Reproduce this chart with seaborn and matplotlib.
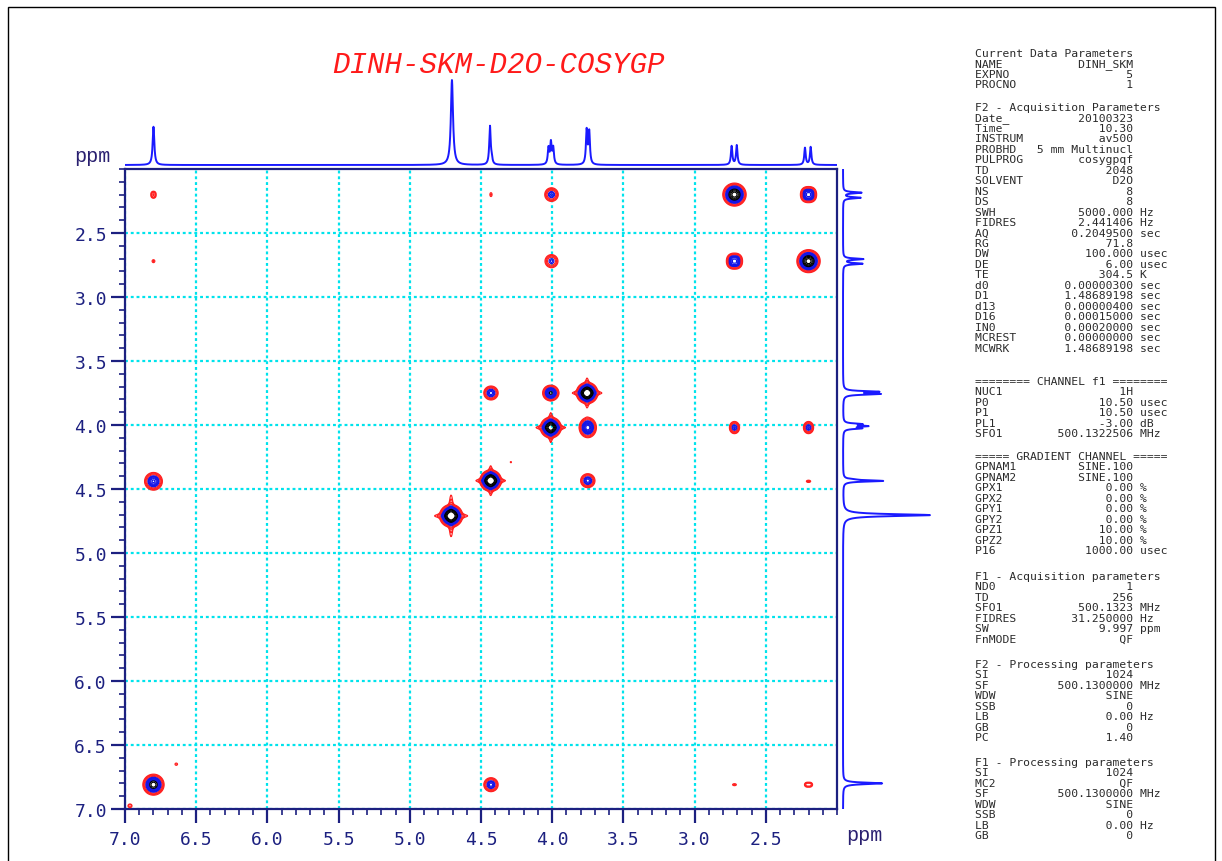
import numpy as np
import pandas as pd
import matplotlib
matplotlib.use("Agg")
import matplotlib.pyplot as plt
from matplotlib.ticker import MultipleLocator, FixedLocator, FixedFormatter
from matplotlib.patches import Rectangle
import seaborn as sns

# ---------------- data ----------------
TITLE = "DINH-SKM-D2O-COSYGP"

# 1D proton spectrum lines (ppm, relative height, half width at half height in ppm)
line_ppm    = [6.800, 4.704, 4.437, 4.425, 4.026, 4.009, 3.993, 3.758, 3.740, 2.740, 2.704, 2.225, 2.185]
line_height = [0.45,  1.00,  0.45,  0.06,  0.19,  0.25,  0.19,  0.40,  0.38,  0.22,  0.23,  0.20,  0.21]
line_hwhm   = [0.007, 0.009, 0.006, 0.006, 0.006, 0.006, 0.006, 0.006, 0.006, 0.006, 0.006, 0.006, 0.006]

# 2D COSY peaks: F2 (x, ppm), F1 (y, ppm), amplitude, widths (ppm)
peak_f2  = [2.720, 2.200, 6.800,
            2.200, 2.216, 2.184, 2.216, 2.184,
            2.720, 2.736, 2.704, 2.736, 2.704,
            4.005, 4.005, 6.800, 6.800, 6.800, 4.430,
            4.430, 4.020, 4.000,
            3.755, 3.755, 3.755,
            4.010, 4.010, 4.010,
            3.750,
            4.432, 4.432, 4.432,
            3.750,
            4.710, 4.710, 4.710,
            6.800, 2.728, 2.712, 2.208, 2.192, 2.200,
            6.640, 6.965, 4.430, 2.720, 2.212, 2.188, 4.290]
peak_f1  = [2.200, 2.720, 6.810,
            2.200, 2.182, 2.182, 2.218, 2.218,
            2.720, 2.702, 2.702, 2.738, 2.738,
            2.200, 2.720, 2.190, 2.212, 2.720, 2.200,
            3.750, 3.750, 3.750,
            3.750, 3.750, 3.750,
            4.020, 4.020, 4.020,
            4.020,
            4.435, 4.435, 4.435,
            4.435,
            4.710, 4.710, 4.710,
            4.440, 4.020, 4.020, 4.020, 4.020, 4.440,
            6.650, 6.975, 6.810, 6.810, 6.810, 6.810, 4.290]
peak_amp = [33, 33, 22,
            4, 6, 6, 6, 6,
            4, 6, 6, 6, 6,
            7, 6, 2.5, 2.5, 1.6, 1.6,
            9, 9, 9,
            40, 2.5, 2.5,
            32, 2.5, 2.5,
            15,
            40, 2.5, 2.5,
            9,
            40, 2.5, 3.0,
            12, 4, 4, 4, 4, 1.8,
            1.5, 2.0, 9, 1.6, 2.5, 2.5, 1.3]
peak_wx  = [0.031, 0.031, 0.030,
            0.032, 0.015, 0.015, 0.015, 0.015,
            0.032, 0.015, 0.015, 0.015, 0.015,
            0.024, 0.024, 0.012, 0.012, 0.010, 0.008,
            0.024, 0.022, 0.022,
            0.028, 0.075, 0.009,
            0.028, 0.075, 0.009,
            0.026,
            0.028, 0.075, 0.009,
            0.024,
            0.030, 0.085, 0.010,
            0.028, 0.016, 0.016, 0.016, 0.016, 0.014,
            0.010, 0.012, 0.024, 0.014, 0.012, 0.012, 0.006]
peak_wy  = [0.034, 0.034, 0.033,
            0.035, 0.017, 0.017, 0.017, 0.017,
            0.035, 0.017, 0.017, 0.017, 0.017,
            0.027, 0.027, 0.012, 0.012, 0.012, 0.016,
            0.026, 0.026, 0.026,
            0.031, 0.010, 0.085,
            0.031, 0.010, 0.085,
            0.034,
            0.031, 0.010, 0.085,
            0.026,
            0.033, 0.011, 0.110,
            0.031, 0.024, 0.024, 0.024, 0.024, 0.008,
            0.010, 0.012, 0.026, 0.008, 0.013, 0.013, 0.007]

xtick_values = [7.0, 6.5, 6.0, 5.5, 5.0, 4.5, 4.0, 3.5, 3.0, 2.5]
xtick_labels = ["7.0", "6.5", "6.0", "5.5", "5.0", "4.5", "4.0", "3.5", "3.0", "2.5"]
ytick_values = [2.5, 3.0, 3.5, 4.0, 4.5, 5.0, 5.5, 6.0, 6.5, 7.0]
ytick_labels = ["2.5", "3.0", "3.5", "4.0", "4.5", "5.0", "5.5", "6.0", "6.5", "7.0"]

param_blocks = [
    [("Current Data Parameters", None, None),
     ("NAME", "DINH_SKM", ""), ("EXPNO", "5", ""), ("PROCNO", "1", "")],
    [("F2 - Acquisition Parameters", None, None),
     ("Date_", "20100323", ""), ("Time", "10.30", ""), ("INSTRUM", "av500", ""),
     ("PROBHD", "5 mm Multinucl", ""), ("PULPROG", "cosygpqf", ""), ("TD", "2048", ""),
     ("SOLVENT", "D2O", ""), ("NS", "8", ""), ("DS", "8", ""),
     ("SWH", "5000.000", "Hz"), ("FIDRES", "2.441406", "Hz"), ("AQ", "0.2049500", "sec"),
     ("RG", "71.8", ""), ("DW", "100.000", "usec"), ("DE", "6.00", "usec"),
     ("TE", "304.5", "K"), ("d0", "0.00000300", "sec"), ("D1", "1.48689198", "sec"),
     ("d13", "0.00000400", "sec"), ("D16", "0.00015000", "sec"), ("IN0", "0.00020000", "sec"),
     ("MCREST", "0.00000000", "sec"), ("MCWRK", "1.48689198", "sec")],
    [("======== CHANNEL f1 ========", None, None),
     ("NUC1", "1H", ""), ("P0", "10.50", "usec"), ("P1", "10.50", "usec"),
     ("PL1", "-3.00", "dB"), ("SFO1", "500.1322506", "MHz")],
    [("===== GRADIENT CHANNEL =====", None, None),
     ("GPNAM1", "SINE.100", ""), ("GPNAM2", "SINE.100", ""),
     ("GPX1", "0.00", "%"), ("GPX2", "0.00", "%"), ("GPY1", "0.00", "%"),
     ("GPY2", "0.00", "%"), ("GPZ1", "10.00", "%"), ("GPZ2", "10.00", "%"),
     ("P16", "1000.00", "usec")],
    [("F1 - Acquisition parameters", None, None),
     ("ND0", "1", ""), ("TD", "256", ""), ("SFO1", "500.1323", "MHz"),
     ("FIDRES", "31.250000", "Hz"), ("SW", "9.997", "ppm"), ("FnMODE", "QF", "")],
    [("F2 - Processing parameters", None, None),
     ("SI", "1024", ""), ("SF", "500.1300000", "MHz"), ("WDW", "SINE", ""),
     ("SSB", "0", ""), ("LB", "0.00", "Hz"), ("GB", "0", ""), ("PC", "1.40", "")],
    [("F1 - Processing parameters", None, None),
     ("SI", "1024", ""), ("MC2", "QF", ""), ("SF", "500.1300000", "MHz"),
     ("WDW", "SINE", ""), ("SSB", "0", ""), ("LB", "0.00", "Hz"), ("GB", "0", "")],
]

# ---------------- layout / style ----------------
sns.set_style("white")
plt.rcParams['font.family'] = ['DejaVu Sans Mono', 'DejaVu Sans']

W, H = 1222, 862
def fx(px): return px / W
def fy(py): return 1 - py / H

NAVY = '#1c2080'
SPEC_BLUE = '#1a1aff'
GRID_CYAN = '#00e3ec'

fig = plt.figure(figsize=(W / 100, H / 100), dpi=100)
fig.patch.set_facecolor('white')

L, R, T, B = 125, 837, 170, 810
ax = fig.add_axes([fx(L), fy(B), (R - L) / W, (B - T) / H])
ax_top = fig.add_axes([fx(L), fy(T), (R - L) / W, 94 / H])
ax_right = fig.add_axes([fx(R), fy(B), 103 / W, (B - T) / H])

# ---- 2D contour field from the peak list ----
gx = np.linspace(7.0, 2.0, 1100)
gy = np.linspace(2.0, 7.0, 1100)
GX, GY = np.meshgrid(gx, gy)
Z = np.zeros_like(GX)
for x0, y0, a, sx, sy in zip(peak_f2, peak_f1, peak_amp, peak_wx, peak_wy):
    Z += a * np.exp(-((GX - x0) ** 2 / (2 * sx ** 2) + (GY - y0) ** 2 / (2 * sy ** 2)))

red_levels = [1.0, 1.45, 2.1, 3.1]
blue_levels = [4.7, 5.6, 6.7, 8.0, 9.5, 11.3, 13.0]
black_levels = [15.0, 18.5, 23.0, 28.0]
levels = red_levels + blue_levels + black_levels
lcolors = (['#ff2020'] * len(red_levels) + ['#1515e6'] * len(blue_levels)
           + ['#000000'] * len(black_levels))
ax.contour(GX, GY, Z, levels=levels, colors=lcolors, linewidths=0.85, zorder=3)

ax.set_xlim(7.0, 2.0)
ax.set_ylim(7.0, 2.0)
ax.xaxis.set_major_locator(FixedLocator(xtick_values))
ax.xaxis.set_major_formatter(FixedFormatter(xtick_labels))
ax.yaxis.set_major_locator(FixedLocator(ytick_values))
ax.yaxis.set_major_formatter(FixedFormatter(ytick_labels))
ax.xaxis.set_minor_locator(MultipleLocator(0.1))
ax.yaxis.set_minor_locator(MultipleLocator(0.1))
ax.tick_params(axis='both', which='major', direction='out', length=10, width=1.6,
               color=NAVY, labelcolor=NAVY, labelsize=13)
ax.tick_params(axis='x', which='major', pad=5)
ax.tick_params(axis='y', which='major', pad=3)
ax.tick_params(axis='both', which='minor', direction='out', length=4, width=1.2, color=NAVY)
ax.tick_params(bottom=True, left=True, top=False, right=False)
ax.tick_params(which='minor', bottom=True, left=True, top=False, right=False)
for sp in ax.spines.values():
    sp.set_color(NAVY)
    sp.set_linewidth(1.6)
    sp.set_visible(True)
ax.set_axisbelow(True)
ax.grid(True, which='major', color=GRID_CYAN, linestyle=(0, (1.3, 1.3)), linewidth=1.6)
ax.grid(False, which='minor')
ax.set_xlabel('')
ax.set_ylabel('')

# ---- 1D projections ----
ppm_grid = np.linspace(7.0, 2.0, 6001)
spec = np.zeros_like(ppm_grid)
for p, h, w in zip(line_ppm, line_height, line_hwhm):
    spec += h / (1 + ((ppm_grid - p) / w) ** 2)
proj = pd.DataFrame({'ppm': ppm_grid, 'intensity': spec})

sns.lineplot(data=proj, x='ppm', y='intensity', ax=ax_top, color=SPEC_BLUE,
             linewidth=1.4, sort=False, estimator=None)
ax_top.set_xlim(7.0, 2.0)
ax_top.set_ylim(-4 / 85, 90 / 85)
ax_top.axis('off')

sns.lineplot(data=proj, x='intensity', y='ppm', ax=ax_right, color=SPEC_BLUE,
             linewidth=1.4, sort=False, estimator=None, orient='y')
ax_right.set_ylim(7.0, 2.0)
ax_right.set_xlim(-6 / 87, 97 / 87)
ax_right.axis('off')

# ---- texts ----
fig.text(fx(498), fy(65), TITLE, color='#ff1a1a', fontsize=21, fontstyle='italic',
         family=['Liberation Mono', 'DejaVu Sans Mono'], ha='center', va='center')
fig.text(fx(74), fy(156), 'ppm', color='#2a2070', fontsize=14.5,
         family=['Liberation Mono', 'DejaVu Sans Mono'], ha='left', va='center')
fig.text(fx(846), fy(836), 'ppm', color='#2a2070', fontsize=14.5,
         family=['Liberation Mono', 'DejaVu Sans Mono'], ha='left', va='center')

block_start_y = [54, 108, 382, 457, 577, 665, 763]
line_step = 10.46
for start, block in zip(block_start_y, param_blocks):
    for i, (name, value, unit) in enumerate(block):
        if value is None:
            s = name
        else:
            s = name + value.rjust(23 - len(name))
            if unit:
                s += " " + unit
        fig.text(fx(975), fy(start + i * line_step), s, fontsize=8.2, color='#2a2a2a',
                 family='DejaVu Sans Mono', ha='left', va='center')

# outer frame
fig.add_artist(Rectangle((fx(8), -0.02), (1215 - 8) / W, fy(8) + 0.02, fill=False,
                         edgecolor='black', linewidth=1.0, transform=fig.transFigure))

fig.savefig('out.png', dpi=100, facecolor='white')
